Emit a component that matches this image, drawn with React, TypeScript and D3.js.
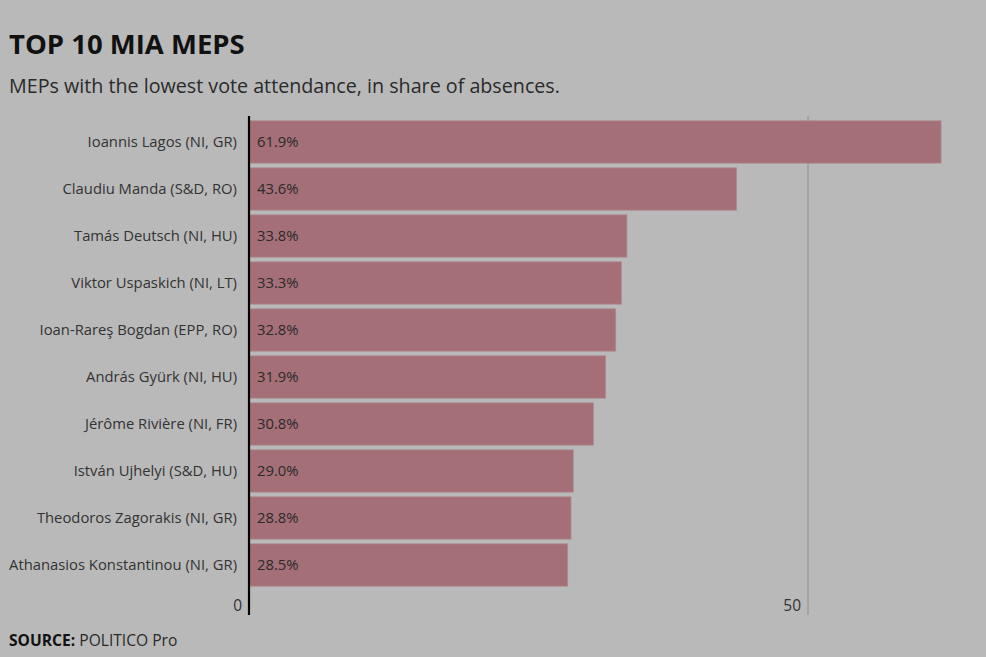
import React from "react";
import * as d3 from "d3";

const names = [
  "Ioannis Lagos (NI, GR)",
  "Claudiu Manda (S&D, RO)",
  "Tamás Deutsch (NI, HU)",
  "Viktor Uspaskich (NI, LT)",
  "Ioan-Rareş Bogdan (EPP, RO)",
  "András Gyürk (NI, HU)",
  "Jérôme Rivière (NI, FR)",
  "István Ujhelyi (S&D, HU)",
  "Theodoros Zagorakis (NI, GR)",
  "Athanasios Konstantinou (NI, GR)",
];
const absences = [61.9, 43.6, 33.8, 33.3, 32.8, 31.9, 30.8, 29.0, 28.8, 28.5];
const tickValues = [0, 50];

const W = 986;
const H = 657;
const FONT = "'Open Sans', Lato, sans-serif";

export default function App() {
  const x = d3.scaleLinear().domain([0, 50]).range([249, 808]);
  const y = d3
    .scaleBand<string>()
    .domain(names)
    .range([118.5, 588.5])
    .paddingInner(0.1)
    .paddingOuter(0.05);

  return (
    <svg
      width={W}
      height={H}
      style={{ position: "absolute", left: 0, top: 0, background: "#b9b9b9", fontFamily: FONT }}
    >
      <rect x={0} y={0} width={W} height={H} fill="#b9b9b9" />
      <text x={9} y={54} fontSize={27.5} fontWeight={700} fill="#111">
        TOP 10 MIA MEPS
      </text>
      <text x={9} y={93} fontSize={19.7} fill="#2a2a2a">
        MEPs with the lowest vote attendance, in share of absences.
      </text>

      {tickValues
        .filter((t) => t !== 0)
        .map((t) => (
          <line key={"g" + t} x1={x(t)} x2={x(t)} y1={116} y2={615} stroke="#8e8e8e" strokeWidth={1} />
        ))}

      {names.map((n, i) => (
        <g key={n}>
          <rect
            x={x(0)}
            y={y(n)!}
            width={x(absences[i]) - x(0)}
            height={y.bandwidth()}
            fill="#a46f76"
            stroke="#ad8a8e"
            strokeWidth={0.8}
          />
          <text
            x={237}
            y={y(n)! + y.bandwidth() / 2}
            dy="0.35em"
            textAnchor="end"
            fontSize={14.8}
            fill="#333"
          >
            {n}
          </text>
          <text x={257} y={y(n)! + y.bandwidth() / 2} dy="0.35em" fontSize={14.8} fill="#2a2a2a">
            {absences[i].toFixed(1)}%
          </text>
        </g>
      ))}

      <line x1={249} x2={249} y1={116} y2={615} stroke="#000" strokeWidth={2.2} />

      {tickValues.map((t) => (
        <text key={"t" + t} x={x(t) - 7} y={611} textAnchor="end" fontSize={15.5} fill="#333">
          {t}
        </text>
      ))}

      <text x={9} y={646} fontSize={15.6} fill="#111">
        <tspan fontWeight={700}>SOURCE:</tspan>
        <tspan fill="#2a2a2a"> POLITICO Pro</tspan>
      </text>
    </svg>
  );
}
